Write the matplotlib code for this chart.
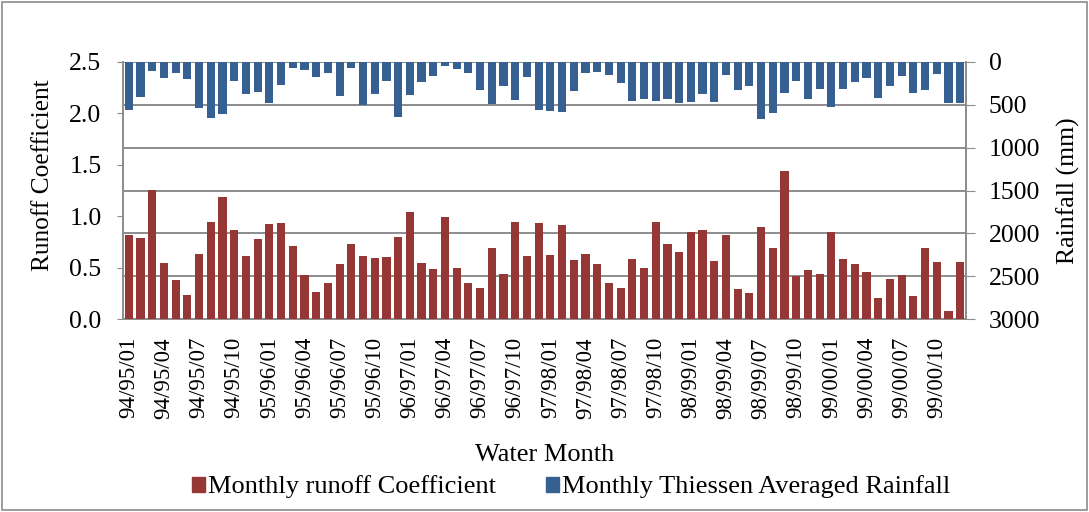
import matplotlib
matplotlib.use("Agg")
import matplotlib.pyplot as plt
import numpy as np
from matplotlib.patches import Rectangle, Patch

years = ["94/95", "95/96", "96/97", "97/98", "98/99", "99/00"]
months = [f"{m:02d}" for m in range(1, 13)]
categories = [f"{y}/{m}" for y in years for m in months]

runoff_coef = [0.815, 0.79, 1.255, 0.548, 0.378, 0.235, 0.632, 0.939, 1.183, 0.870, 0.613, 0.782,
               0.926, 0.935, 0.714, 0.424, 0.267, 0.349, 0.538, 0.730, 0.613, 0.593, 0.606, 0.799,
               1.037, 0.548, 0.486, 0.997, 0.492, 0.352, 0.297, 0.694, 0.440, 0.948, 0.610, 0.929,
               0.619, 0.919, 0.574, 0.629, 0.538, 0.355, 0.303, 0.580, 0.492, 0.939, 0.727, 0.649,
               0.851, 0.864, 0.561, 0.821, 0.287, 0.251, 0.896, 0.694, 1.437, 0.420, 0.473, 0.437,
               0.844, 0.587, 0.531, 0.453, 0.205, 0.388, 0.427, 0.228, 0.694, 0.551, 0.078, 0.557]

rainfall = [563, 407, 106, 188, 125, 203, 536, 649, 610, 219, 379, 352,
            477, 274, 70, 90, 172, 125, 395, 70, 497, 379, 227, 645,
            387, 239, 164, 43, 78, 125, 329, 493, 282, 442, 172, 555,
            571, 587, 336, 125, 121, 149, 250, 458, 434, 450, 430, 481,
            469, 379, 469, 149, 329, 282, 669, 598, 360, 227, 430, 313,
            524, 313, 239, 188, 415, 282, 164, 360, 329, 141, 473, 473]

red = "#953735"
blue = "#376092"
grey = "#8c8c8c"

plt.rcParams['font.family'] = ['Liberation Serif', 'DejaVu Serif']

fig = plt.figure(figsize=(10.89, 5.12), dpi=100)
W, H = 1089, 512
left, right, top, bottom = 123, 966, 62, 319
ax = fig.add_axes([left / W, 1 - bottom / H, (right - left) / W, (bottom - top) / H])
ax2 = ax.twinx()

x = np.arange(len(categories))
ax.bar(x, runoff_coef, width=0.7, color=red, zorder=3)
ax2.bar(x, rainfall, width=0.7, color=blue, zorder=3)

ax.set_xlim(-0.5, len(categories) - 0.5)
ax.set_ylim(0, 2.5)
yt = np.arange(0, 2.51, 0.5)
ax.set_yticks(yt)
ax.set_yticklabels([f"{v:.1f}" for v in yt])
ax2.set_ylim(3000, 0)
ax2.set_yticks(np.arange(0, 3001, 500))

ax.set_xticks(x[::3])
ax.set_xticklabels(categories[::3], rotation=90, fontsize=16.5)
ax.tick_params(axis='x', length=0, pad=13)
ax.tick_params(axis='y', labelsize=18.5, length=4.5, color=grey, pad=11)
ax2.tick_params(axis='y', labelsize=18.5, length=6.5, color=grey, pad=10)

ax2.grid(axis='y', color=grey, linewidth=1.4, zorder=0)
ax2.set_axisbelow(True)
ax.set_zorder(ax2.get_zorder() + 1)
ax.patch.set_visible(False)

for a in (ax, ax2):
    for s in a.spines.values():
        s.set_color(grey)
        s.set_linewidth(1.2)
    a.spines['top'].set_visible(False)

ax.set_ylabel("Runoff Coefficient", fontsize=18.3)
ax.yaxis.set_label_coords(43 / W, 1 - 175 / H, transform=fig.transFigure)
ax2.set_ylabel("Rainfall (mm)", fontsize=18.5)
ax2.yaxis.set_label_coords(1068 / W, 1 - 191 / H, transform=fig.transFigure)
ax.set_xlabel("Water Month", fontsize=19)
ax.xaxis.set_label_coords(545 / W, 1 - 455 / H, transform=fig.transFigure)
ax.xaxis.label.set_va('center')
ax.yaxis.label.set_va('center')
ax2.yaxis.label.set_va('center')

handles = [Patch(color=red, label="Monthly runoff Coefficient"),
           Patch(color=blue, label="Monthly Thiessen Averaged Rainfall")]
fig.legend(handles=handles, loc='center', bbox_to_anchor=(571 / W, 1 - 487 / H), ncol=2,
           frameon=False, fontsize=19, handlelength=0.5, handleheight=0.5,
           handletextpad=0.1, columnspacing=1.9, borderpad=0.2)

fig.patches.append(Rectangle((2 / W, 2 / H), 1 - 4 / W, 1 - 4 / H, transform=fig.transFigure,
                             fill=False, edgecolor=grey, linewidth=1.2))

fig.savefig("out.png", dpi=100)
